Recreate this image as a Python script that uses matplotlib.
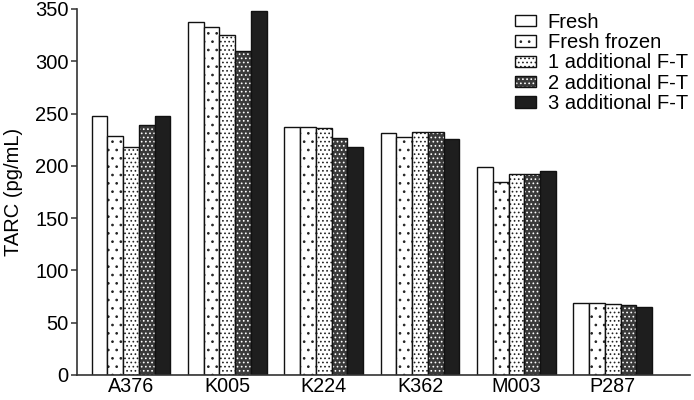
import numpy as np
import matplotlib
matplotlib.use('Agg')
import matplotlib.pyplot as plt
import matplotlib.patches as mpatches
from matplotlib.legend_handler import HandlerTuple

plt.rcParams['font.family'] = ['Liberation Sans', 'DejaVu Sans']
plt.rcParams['hatch.linewidth'] = 0.7

samples = ['A376', 'K005', 'K224', 'K362', 'M003', 'P287']
series = ['Fresh', 'Fresh frozen', '1 additional F-T', '2 additional F-T', '3 additional F-T']

fresh = [248, 338, 237, 231, 199, 69]
fresh_frozen = [229, 333, 237, 228, 185, 69]
ft1 = [218, 325, 236, 232, 192, 68]
ft2 = [239, 310, 227, 232, 192, 67]
ft3 = [248, 348, 218, 226, 195, 65]

values = [fresh, fresh_frozen, ft1, ft2, ft3]

# fill style per series: facecolor, hatch, hatch colour
styles = [
    ('white', None, 'black'),
    ('white', '..', '#222222'),
    ('white', '....', '#222222'),
    ('#3a3a3a', '....', 'white'),
    ('#1e1e1e', None, 'black'),
]

fig = plt.figure(figsize=(6.94, 4.0), dpi=100)
ax = fig.add_axes([0.111, 0.0625, 0.883, 0.915])

x = np.arange(len(samples))
w = 0.163
handles = []
for i, (vals, (fc, hatch, hc)) in enumerate(zip(values, styles)):
    pos = x + (i - 2) * w
    # fill + hatch pass, then a black outline pass on top
    ax.bar(pos, vals, w, color=fc, edgecolor=hc, hatch=hatch, linewidth=0)
    ax.bar(pos, vals, w, facecolor='none', edgecolor='#111111', linewidth=1.0)
    fill = mpatches.Patch(facecolor=fc, edgecolor=hc, hatch=hatch, linewidth=0)
    outline = mpatches.Patch(facecolor='none', edgecolor='#111111', linewidth=1.0)
    handles.append((fill, outline))

ax.set_xlim(-0.56, 5.8)
ax.set_ylim(0, 350)
ax.set_yticks(range(0, 351, 50))
ax.set_xticks(x)
ax.set_xticklabels(samples, fontsize=14.2)
ax.tick_params(axis='x', length=0, pad=1.5)
ax.tick_params(axis='y', labelsize=14.5, length=4, width=1.1, color='#333333', pad=2)
ax.set_ylabel('TARC (pg/mL)', fontsize=14.5, labelpad=9)

for s in ['top', 'right']:
    ax.spines[s].set_visible(False)
for s in ['left', 'bottom']:
    ax.spines[s].set_linewidth(1.2)
    ax.spines[s].set_color('#333333')

ax.legend(handles, series, handler_map={tuple: HandlerTuple(ndivide=1, pad=0)},
          loc='upper right', bbox_to_anchor=(1.01, 1.012), frameon=False,
          fontsize=14.5, labelspacing=0.07, handlelength=1.0, handleheight=0.5,
          handletextpad=0.6, borderaxespad=0.0)

fig.savefig('out.png', dpi=100)
